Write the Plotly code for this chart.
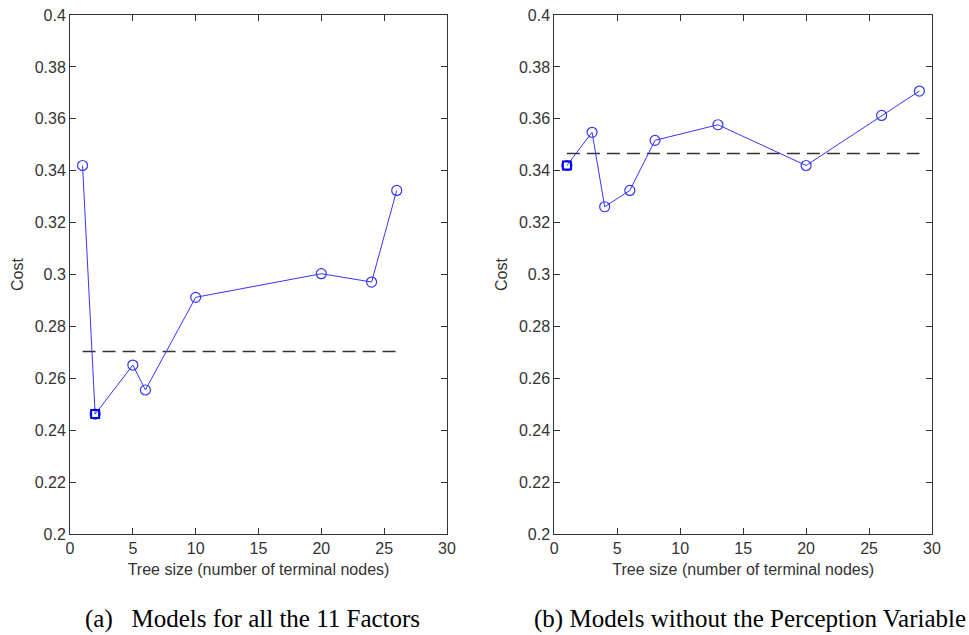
import plotly.graph_objects as go

# Panel (a): all 11 factors
xa = [1, 2, 5, 6, 10, 20, 24, 26]
ya = [0.342, 0.2462, 0.2651, 0.2555, 0.2912, 0.3003, 0.2971, 0.3324]
best_a_x = [2]
best_a_y = [0.2462]
thr_a_x = [1, 26]
thr_a_y = [0.2703, 0.2703]

# Panel (b): without the perception variable
xb = [1, 3, 4, 6, 8, 13, 20, 26, 29]
yb = [0.342, 0.3548, 0.3261, 0.3324, 0.3517, 0.3577, 0.342, 0.3613, 0.3707]
best_b_x = [1]
best_b_y = [0.342]
thr_b_x = [1, 29]
thr_b_y = [0.3466, 0.3466]

x_ticks = [0, 5, 10, 15, 20, 25, 30]
y_ticks = [0.2, 0.22, 0.24, 0.26, 0.28, 0.3, 0.32, 0.34, 0.36, 0.38, 0.4]
y_tick_text = ["0.2", "0.22", "0.24", "0.26", "0.28", "0.3", "0.32", "0.34", "0.36", "0.38", "0.4"]

caption_a = "(a)\u00a0\u00a0\u00a0Models for all the 11 Factors"
caption_b = "(b) Models without the Perception Variable"
x_title = "Tree size (number of terminal nodes)"
y_title = "Cost"

BLUE = "#3535ff"
AX = "#333333"

fig = go.Figure()


def add_panel(x, y, bx, by, tx, ty, xref, yref):
    fig.add_trace(go.Scatter(
        x=tx, y=ty, mode="lines", xaxis=xref, yaxis=yref,
        line=dict(color="#333333", width=1.5, dash="13px,7px"),
        showlegend=False, hoverinfo="skip"))
    fig.add_trace(go.Scatter(
        x=x, y=y, mode="lines+markers", xaxis=xref, yaxis=yref,
        line=dict(color=BLUE, width=1),
        marker=dict(symbol="circle-open", size=10, color=BLUE, line=dict(width=1.2, color=BLUE)),
        showlegend=False))
    fig.add_trace(go.Scatter(
        x=bx, y=by, mode="markers", xaxis=xref, yaxis=yref,
        marker=dict(symbol="square-open", size=8, color="#0000ee", line=dict(width=2, color="#0000ee")),
        showlegend=False))


add_panel(xa, ya, best_a_x, best_a_y, thr_a_x, thr_a_y, "x", "y")
add_panel(xb, yb, best_b_x, best_b_y, thr_b_x, thr_b_y, "x2", "y2")

tickfont = dict(family="Liberation Sans, Arial, sans-serif", size=16, color=AX)

xcommon = dict(range=[0, 30], tickvals=x_ticks, ticks="inside", ticklen=6, tickcolor=AX,
               showline=True, linecolor=AX, linewidth=1, mirror="allticks", showgrid=False,
               zeroline=False, tickfont=tickfont, automargin=False,
               title=dict(text=x_title, font=tickfont, standoff=7))
ycommon = dict(range=[0.2, 0.4], tickvals=y_ticks, ticktext=y_tick_text, ticks="inside", ticklen=6,
               tickcolor=AX, showline=True, linecolor=AX, linewidth=1, mirror="allticks",
               showgrid=False, zeroline=False, tickfont=tickfont, automargin=False,
               title=dict(text=y_title, font=tickfont, standoff=7))

yd = [101 / 635, 620 / 635]
capfont = dict(family="Liberation Serif, Times New Roman, serif", size=25, color="black")
fig.update_layout(
    width=969, height=635,
    margin=dict(l=0, r=0, t=0, b=0, autoexpand=False),
    paper_bgcolor="white", plot_bgcolor="white",
    xaxis=dict(domain=[70 / 969, 447 / 969], anchor="y", **xcommon),
    yaxis=dict(domain=yd, anchor="x", **ycommon),
    xaxis2=dict(domain=[554.3 / 969, 932 / 969], anchor="y2", **xcommon),
    yaxis2=dict(domain=yd, anchor="x2", **ycommon),
    annotations=[
        dict(text=caption_a, x=252 / 969, y=(635 - 619) / 635, xref="paper", yref="paper",
             showarrow=False, xanchor="center", yanchor="middle", font=capfont),
        dict(text=caption_b, x=750 / 969, y=(635 - 619) / 635, xref="paper", yref="paper",
             showarrow=False, xanchor="center", yanchor="middle", font=capfont),
    ],
)

fig.write_html("out.html", config={"displayModeBar": False},
               post_script="document.body.style.margin='0px';document.body.style.overflow='hidden';")
